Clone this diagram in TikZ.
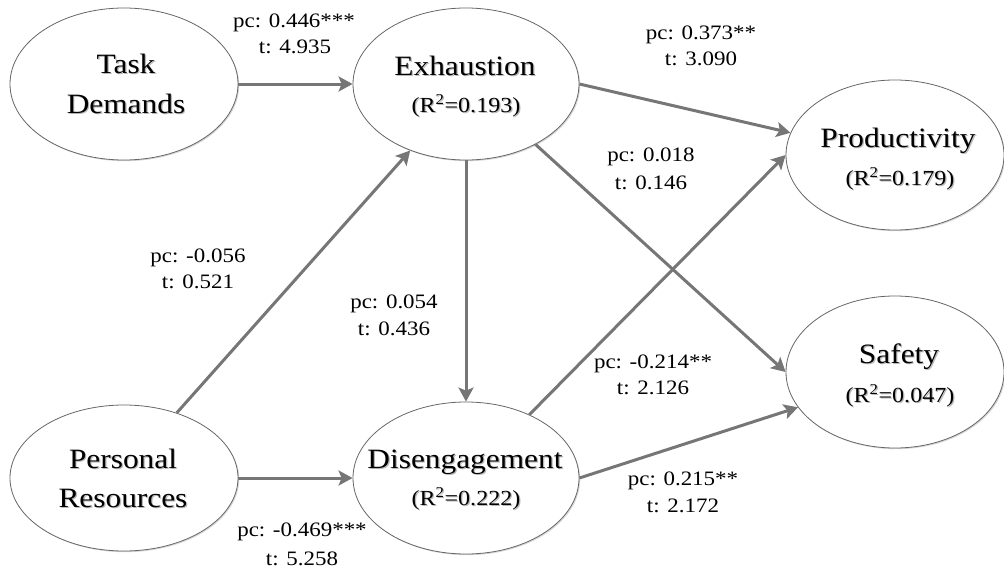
\documentclass[tikz,border=0pt]{standalone}
\usepackage{fontspec}
\setmainfont{Liberation Serif}[FakeStretch=1.12]
\usetikzlibrary{shapes.geometric,arrows.meta,shadows}

% text with a soft grey shadow behind it
\newcommand\shtext[1]{\makebox[0pt][l]{\hspace{1.2pt}\raisebox{-1.2pt}{\textcolor{black!28}{#1}}}#1}

\begin{document}
\begin{tikzpicture}[x=1pt,y=-1pt,
  construct/.style={ellipse, draw=black!60, line width=0.8pt, fill=white,
    inner sep=0pt,
    drop shadow={shadow xshift=1.2pt, shadow yshift=-1.2pt, opacity=0.35, fill=black!45}},
  cname/.style={anchor=base, inner sep=0pt, font=\fontsize{28}{32}\selectfont},
  rsq/.style={anchor=base, inner sep=0pt, font=\fontsize{21.5}{25}\selectfont},
  lab/.style={anchor=base, inner sep=0pt, font=\fontsize{20.5}{24}\selectfont},
  path/.style={draw={rgb,255:red,118;green,118;blue,118}, line width=3pt,
    -{Stealth[length=14pt, width=15pt, inset=3pt]}}
]
\useasboundingbox (0,0) rectangle (1004,573);

% constructs
\node[construct, minimum width=228pt, minimum height=152pt] (task) at (124,84) {};
\node[construct, minimum width=226pt, minimum height=152pt] (exh)  at (466,84) {};
\node[construct, minimum width=218pt, minimum height=150pt] (prod) at (895,155) {};
\node[construct, minimum width=218pt, minimum height=152pt] (safe) at (895,372) {};
\node[construct, minimum width=228pt, minimum height=146pt] (pers) at (124,478) {};
\node[construct, minimum width=226pt, minimum height=152pt] (dis)  at (466,478) {};

% construct names and explained variance
\node[cname] (taskA) at (126,73)  {\shtext{Task}};
\node[cname] (taskB) at (126,113) {\shtext{Demands}};
\node[cname] (exhA)  at (465,75)  {\shtext{Exhaustion}};
\node[rsq]   (exhB)  at (466,112) {\shtext{(R\textsuperscript{2}=0.193)}};
\node[cname] (prodA) at (898,147) {\shtext{Productivity}};
\node[rsq]   (prodB) at (900,185) {\shtext{(R\textsuperscript{2}=0.179)}};
\node[cname] (safeA) at (899,363) {\shtext{Safety}};
\node[rsq]   (safeB) at (900,402) {\shtext{(R\textsuperscript{2}=0.047)}};
\node[cname] (persA) at (123,468) {\shtext{Personal}};
\node[cname] (persB) at (123,507) {\shtext{Resources}};
\node[cname] (disA)  at (465,468) {\shtext{Disengagement}};
\node[rsq]   (disB)  at (466,505) {\shtext{(R\textsuperscript{2}=0.222)}};

% structural paths
\draw[path] (task) -- (exh);
\draw[path] (pers) -- (dis);
\draw[path] (pers.51) -- (exh.230);
\draw[path] (exh) -- (dis);
\draw[path] (exh.0) -- (prod.168);
\draw[path] (exh.319) -- (safe.180);
\draw[path] (dis.45) -- (prod.180);
\draw[path] (dis.0) -- (safe.200);

% path coefficients and t values
\node[lab] (c1p) at (294,27)  {pc: 0.446***};
\node[lab] (c1t) at (295,53)  {t: 4.935};
\node[lab] (c2p) at (701,39)  {pc: 0.373**};
\node[lab] (c2t) at (701,65)  {t: 3.090};
\node[lab] (c3p) at (651,161) {pc: 0.018};
\node[lab] (c3t) at (651,189) {t: 0.146};
\node[lab] (c4p) at (198,262) {pc: -0.056};
\node[lab] (c4t) at (198,288) {t: 0.521};
\node[lab] (c5p) at (394,308) {pc: 0.054};
\node[lab] (c5t) at (394,335) {t: 0.436};
\node[lab] (c6p) at (653,368) {pc: -0.214**};
\node[lab] (c6t) at (653,394) {t: 2.126};
\node[lab] (c7p) at (683,485) {pc: 0.215**};
\node[lab] (c7t) at (683,512) {t: 2.172};
\node[lab] (c8p) at (302,536) {pc: -0.469***};
\node[lab] (c8t) at (302,565) {t: 5.258};
\end{tikzpicture}
\end{document}
